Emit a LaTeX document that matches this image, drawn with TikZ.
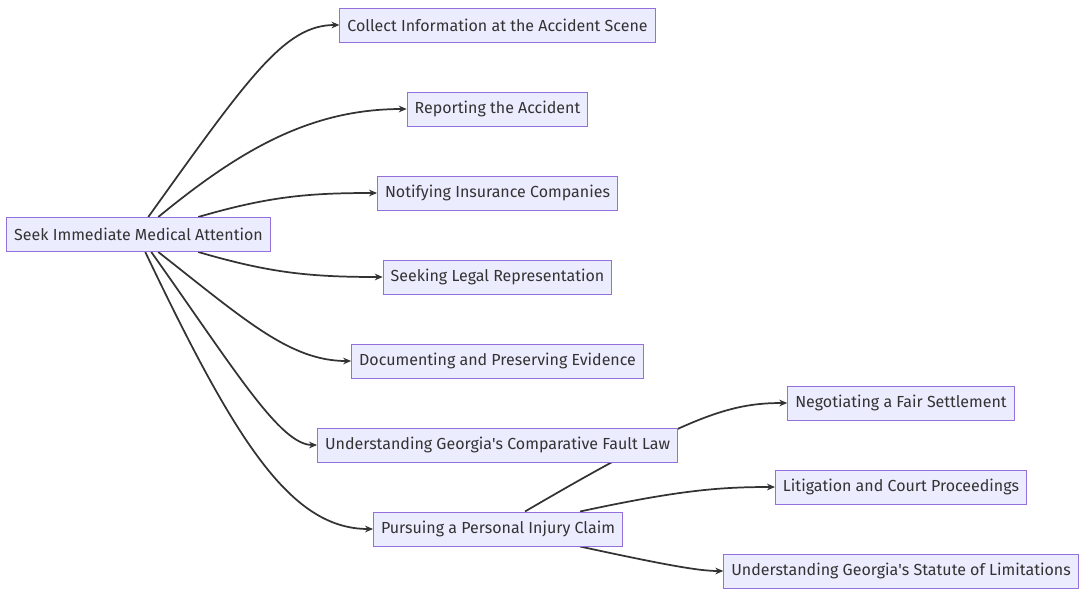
\documentclass[tikz,border=0pt]{standalone}
\usepackage{fontspec}
\setmainfont{Fira Sans}
\usetikzlibrary{arrows.meta,backgrounds}
\definecolor{boxfill}{HTML}{ECECFF}
\definecolor{boxline}{HTML}{9370DB}
\definecolor{ink}{HTML}{333333}
\tikzstyle{stage} = [draw=boxline,fill=boxfill,line width=0.75pt,text=ink,inner xsep=5.6pt,minimum height=25.5pt,font=\fontsize{12}{14}\selectfont]
\tikzstyle{flow} = [draw=ink,line width=1.3pt,-{Stealth[length=6pt,width=5pt]}]

\begin{document}
\begin{tikzpicture}[x=0.75pt,y=-0.75pt]
		\useasboundingbox (0,0) rectangle (1084,596);
		\node[stage] (seek) at (138.5,234.5) {Seek Immediate Medical Attention};
		\node[stage] (collect) at (497.5,25) {Collect Information at the Accident Scene};
		\node[stage] (report) at (497.5,109) {Reporting the Accident};
		\node[stage] (notify) at (497.5,193) {Notifying Insurance Companies};
		\node[stage] (legal) at (497.5,277) {Seeking Legal Representation};
		\node[stage] (evidence) at (497.5,361) {Documenting and Preserving Evidence};
		\node[stage] (fault) at (497.5,445) {Understanding Georgia\textquotesingle s Comparative Fault Law};
		\node[stage] (claim) at (498,529) {Pursuing a Personal Injury Claim};
		\node[stage] (settle) at (901,403) {Negotiating a Fair Settlement};
		\node[stage] (court) at (901,487) {Litigation and Court Proceedings};
		\node[stage] (limits) at (901,571) {Understanding Georgia\textquotesingle s Statute of Limitations};

		\begin{scope}[on background layer]
		\draw[flow] (seek.north west) ++(142,0) .. controls (250,75) and (285,25) .. (collect.west);
		\draw[flow] (seek.north west) ++(152,0) .. controls (240,150) and (310,109) .. (report.west);
		\draw[flow] (seek.north west) ++(192,0) .. controls (270,196) and (310,193) .. (notify.west);
		\draw[flow] (seek.south west) ++(192,0) .. controls (270,273) and (310,277) .. (legal.west);
		\draw[flow] (seek.south west) ++(152,0) .. controls (245,320) and (290,361) .. (evidence.west);
		\draw[flow] (seek.south west) ++(145,0) .. controls (235,370) and (280,445) .. (fault.west);
		\draw[flow] (seek.south west) ++(139,0) .. controls (235,440) and (290,529) .. (claim.west);
		\draw[flow] (claim.north) ++(27,0) .. controls (690,415) and (730,403) .. (settle.west);
		\draw[flow] (claim.north) ++(82,0) .. controls (680,490) and (720,487) .. (court.west);
		\draw[flow] (claim.south) ++(82,0) .. controls (670,566) and (700,571) .. (limits.west);
		\end{scope}
		\end{tikzpicture}
\end{document}
